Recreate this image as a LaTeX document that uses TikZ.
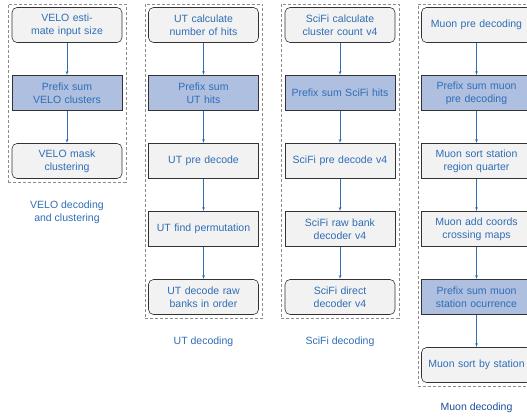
\documentclass[tikz,border=0pt]{standalone}
\usepackage{fontspec}
\setmainfont{Liberation Sans}
\usetikzlibrary{shapes,arrows,positioning,fit}

\definecolor{steptext}{HTML}{2F6DB5}
\definecolor{capdark}{HTML}{1D4E9A}
\definecolor{boxfill}{HTML}{F2F2F2}
\definecolor{prefixfill}{HTML}{AEBFE0}
\definecolor{boxline}{HTML}{333333}
\definecolor{groupline}{HTML}{8C8C8C}
\definecolor{arrowline}{HTML}{2F6DB5}

\begin{document}
\begin{tikzpicture}[node distance = 68pt, auto, semithick,
    font=\fontsize{10.5}{12.8}\selectfont]
  \tikzstyle{block} = [rectangle, draw=boxline, fill=boxfill, text=steptext,
    text width=104pt, align=center, minimum width=110pt,
    minimum height=35pt, inner sep=2pt]
  \tikzstyle{terminal} = [block, rounded corners=5pt]
  \tikzstyle{sumblock} = [block, fill=prefixfill]
  \tikzstyle{groupbox} = [draw=groupline, thin, dash pattern=on 3pt off 2pt,
    inner sep=3.5pt]
  \tikzstyle{grouplabel} = [text=steptext, align=center]
  \tikzstyle{line} = [draw=arrowline, thin, -latex']

  \useasboundingbox (0,0) rectangle (527pt,-416pt);

  % VELO column
  \node [terminal] at (67pt,-25pt) (velo1) {VELO esti-\\mate input size};
  \node [sumblock, below of=velo1] (velo2) {Prefix sum\\VELO clusters};
  \node [terminal, below of=velo2] (velo3) {VELO mask\\clustering};

  % UT column
  \node [terminal, right of=velo1, node distance=136.5pt] (ut1)
        {UT calculate\\number of hits};
  \node [sumblock, below of=ut1] (ut2) {Prefix sum\\UT hits};
  \node [block, below of=ut2] (ut3) {UT pre decode};
  \node [block, below of=ut3] (ut4) {UT find permutation};
  \node [terminal, below of=ut4] (ut5) {UT decode raw\\banks in order};

  % SciFi column
  \node [terminal, right of=ut1, node distance=136.5pt] (scifi1)
        {SciFi calculate\\cluster count v4};
  \node [sumblock, below of=scifi1] (scifi2) {Prefix sum SciFi hits};
  \node [block, below of=scifi2] (scifi3) {SciFi pre decode v4};
  \node [block, below of=scifi3] (scifi4) {SciFi raw bank\\decoder v4};
  \node [terminal, below of=scifi4] (scifi5) {SciFi direct\\decoder v4};

  % Muon column
  \node [terminal, right of=scifi1, node distance=136.5pt] (muon1)
        {Muon pre decoding};
  \node [sumblock, below of=muon1] (muon2) {Prefix sum muon\\pre decoding};
  \node [block, below of=muon2] (muon3) {Muon sort station\\region quarter};
  \node [block, below of=muon3] (muon4) {Muon add coords\\crossing maps};
  \node [sumblock, below of=muon4] (muon5) {Prefix sum muon\\station ocurrence};
  \node [terminal, below of=muon5] (muon6) {Muon sort by station};

  % Groups and captions
  \node [groupbox, fit=(velo1)(velo3)] (velobox) {};
  \node [groupbox, fit=(ut1)(ut5)] (utbox) {};
  \node [groupbox, fit=(scifi1)(scifi5)] (scifibox) {};
  \node [groupbox, fit=(muon1)(muon6)] (muonbox) {};

  \node [grouplabel, below=15pt of velobox] (velocap)
        {VELO decoding\\and clustering};
  \node [grouplabel, below=15pt of utbox] (utcap) {UT decoding};
  \node [grouplabel, below=15pt of scifibox] (scificap) {SciFi decoding};
  \node [grouplabel, text=capdark, below=13pt of muonbox] (muoncap)
        {Muon decoding};

  % Draw edges
  \path [line] (velo1) -- (velo2);
  \path [line] (velo2) -- (velo3);

  \path [line] (ut1) -- (ut2);
  \path [line] (ut2) -- (ut3);
  \path [line] (ut3) -- (ut4);
  \path [line] (ut4) -- (ut5);

  \path [line] (scifi1) -- (scifi2);
  \path [line] (scifi2) -- (scifi3);
  \path [line] (scifi3) -- (scifi4);
  \path [line] (scifi4) -- (scifi5);

  \path [line] (muon1) -- (muon2);
  \path [line] (muon2) -- (muon3);
  \path [line] (muon3) -- (muon4);
  \path [line] (muon4) -- (muon5);
  \path [line] (muon5) -- (muon6);

\end{tikzpicture}
\end{document}
